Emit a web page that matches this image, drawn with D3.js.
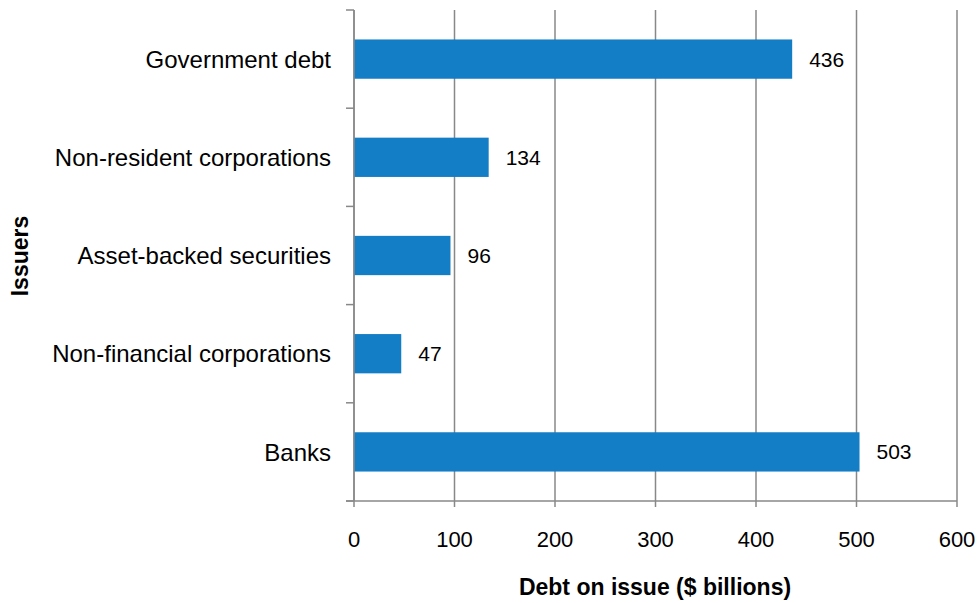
<!DOCTYPE html>
<html>
<head>
<meta charset="utf-8">
<script src="https://cdn.jsdelivr.net/npm/d3@7"></script>
<style>
    body { margin: 0; background: #ffffff; }
    text { font-family: "Liberation Sans", Arial, sans-serif; fill: #000000; }
</style>
</head>
<body>
<div id="chart"></div>
<script>

// Chart data
var issuers = ["Government debt", "Non-resident corporations", "Asset-backed securities", "Non-financial corporations", "Banks"];
var debtOnIssue = [436, 134, 96, 47, 503];
var xTicks = [0, 100, 200, 300, 400, 500, 600];

function drawChart() {
    // Set the dimensions
    var width = 980;
    var height = 603;
    var plotLeft = 354, plotRight = 957, plotTop = 10, plotBottom = 501;
    var gridColor = "#888888";

    var svg = d3.select("#chart").append("svg").attr("width", width).attr("height", height);

    // Scales
    var x = d3.scaleLinear().domain([0, 600]).range([plotLeft, plotRight]);
    var y = d3.scaleBand().domain(issuers).range([plotTop, plotBottom]).paddingInner(0.6).paddingOuter(0.3);
    var band = d3.scaleBand().domain(issuers).range([plotTop, plotBottom]);

    // Vertical gridlines (with the tick stub below the axis)
    svg.append("g")
        .selectAll("line")
        .data(xTicks)
        .enter().append("line")
        .attr("x1", function(d) { return x(d); })
        .attr("x2", function(d) { return x(d); })
        .attr("y1", plotTop)
        .attr("y2", plotBottom + 6)
        .style("stroke", gridColor)
        .style("stroke-width", 1.5);

    // Bars
    var rows = issuers.map(function(name, i) { return {name: name, value: debtOnIssue[i]}; });

    svg.append("g")
        .selectAll("rect")
        .data(rows)
        .enter().append("rect")
        .attr("x", x(0))
        .attr("y", function(d) { return y(d.name); })
        .attr("width", function(d) { return x(d.value) - x(0); })
        .attr("height", y.bandwidth())
        .style("fill", "#137dc5");

    // Value labels next to each bar
    svg.append("g")
        .selectAll("text")
        .data(rows)
        .enter().append("text")
        .attr("x", function(d) { return x(d.value) + 17; })
        .attr("y", function(d) { return y(d.name) + y.bandwidth() / 2; })
        .attr("dy", "0.36em")
        .style("font-size", "21px")
        .text(function(d) { return d.value; });

    // Y axis line and band ticks
    svg.append("line")
        .attr("x1", plotLeft).attr("x2", plotLeft)
        .attr("y1", plotTop).attr("y2", plotBottom)
        .style("stroke", gridColor).style("stroke-width", 1.5);

    var bandEdges = issuers.map(function(d) { return band(d); }).concat([plotBottom]);
    svg.append("g")
        .selectAll("line")
        .data(bandEdges)
        .enter().append("line")
        .attr("x1", plotLeft - 8).attr("x2", plotLeft)
        .attr("y1", function(d) { return d; })
        .attr("y2", function(d) { return d; })
        .style("stroke", gridColor).style("stroke-width", 1.5);

    // X axis line
    svg.append("line")
        .attr("x1", plotLeft - 8).attr("x2", plotRight)
        .attr("y1", plotBottom).attr("y2", plotBottom)
        .style("stroke", gridColor).style("stroke-width", 1.5);

    // Category labels
    svg.append("g")
        .selectAll("text")
        .data(issuers)
        .enter().append("text")
        .attr("x", 331)
        .attr("y", function(d) { return band(d) + band.bandwidth() / 2; })
        .attr("dy", "0.36em")
        .attr("text-anchor", "end")
        .style("font-size", "24px")
        .text(function(d) { return d; });

    // Tick labels
    svg.append("g")
        .selectAll("text")
        .data(xTicks)
        .enter().append("text")
        .attr("x", function(d) { return x(d); })
        .attr("y", 547)
        .attr("text-anchor", "middle")
        .style("font-size", "22px")
        .text(function(d) { return d; });

    // Axis titles
    svg.append("text")
        .attr("x", 655)
        .attr("y", 595)
        .attr("text-anchor", "middle")
        .style("font-size", "23px")
        .style("font-weight", "bold")
        .text("Debt on issue ($ billions)");

    svg.append("text")
        .attr("transform", "translate(28,256) rotate(-90)")
        .attr("text-anchor", "middle")
        .style("font-size", "23px")
        .style("font-weight", "bold")
        .text("Issuers");
}

drawChart();

</script>
</body>
</html>
